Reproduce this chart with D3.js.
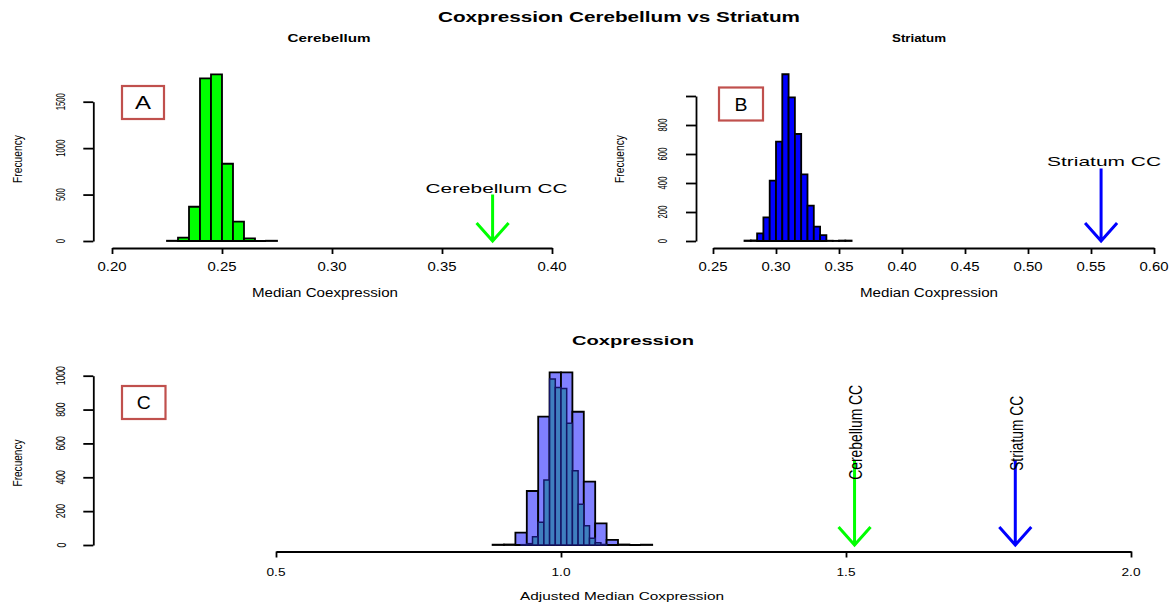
<!DOCTYPE html>
<html>
<head>
<meta charset="utf-8">
<script src="https://cdn.jsdelivr.net/npm/d3@7"></script>
<style>
  html, body { margin: 0; padding: 0; background: #fff; }
  svg { display: block; font-family: "Liberation Sans", Arial, Helvetica, sans-serif; }
</style>
</head>
<body>
<svg id="chart" width="1173" height="605"></svg>
<script>
// Null distributions of median coexpression (histogram bin edges and counts)
const cerebellumEdges  = [0.225, 0.230, 0.235, 0.240, 0.245, 0.250, 0.255, 0.260, 0.265, 0.270, 0.275];
const cerebellumCounts = [3, 36, 369, 1751, 1794, 832, 208, 29, 0, 3];

const striatumEdges  = [0.275, 0.280, 0.285, 0.290, 0.295, 0.300, 0.305, 0.310, 0.315, 0.320,
                        0.325, 0.330, 0.335, 0.340, 0.345, 0.350, 0.355, 0.360];
const striatumCounts = [3, 4, 53, 163, 416, 685, 1150, 990, 738, 460, 244, 99, 41, 2, 1, 3, 3];

// Adjusted (normalised) null distributions
const adjustedWideEdges  = [0.88, 0.90, 0.92, 0.94, 0.96, 0.98, 1.00, 1.02, 1.04, 1.06, 1.08, 1.10, 1.12, 1.14, 1.16];
const adjustedWideCounts = [2, 3, 73, 319, 758, 1020, 1020, 787, 374, 128, 30, 3, 0, 2];
const adjustedNarrowEdges  = [0.93, 0.94, 0.95, 0.96, 0.97, 0.98, 0.99, 1.00, 1.01, 1.02, 1.03, 1.04, 1.05, 1.06, 1.07, 1.08];
const adjustedNarrowCounts = [2, 8, 49, 134, 384, 980, 931, 925, 719, 439, 240, 114, 40, 14, 3];

// Observed values (arrows)
const cerebellumCC = 0.373;
const striatumCC = 0.558;
const cerebellumCCAdjusted = 1.515;
const striatumCCAdjusted = 1.797;
const arrowTop = 500;

// Axis ticks
const aTicksX = [0.20, 0.25, 0.30, 0.35, 0.40];
const aTicksY = [0, 500, 1000, 1500];
const bTicksX = [0.25, 0.30, 0.35, 0.40, 0.45, 0.50, 0.55, 0.60];
const bTicksY = [0, 200, 400, 600, 800, 1000];
const bTickLabelsY = ["0", "200", "400", "600", "800", ""];
const cTicksX = [0.5, 1.0, 1.5, 2.0];
const cTicksY = [0, 200, 400, 600, 800, 1000];

const svg = d3.select("#chart");
svg.append("rect").attr("width", 1173).attr("height", 605).attr("fill", "#fff");

// Text helper: centred text, optionally rotated and forced to a given length
function label(x, y, s, o) {
  const t = svg.append("text")
    .attr("x", x).attr("y", y)
    .attr("text-anchor", "middle")
    .attr("font-size", o.size)
    .attr("font-weight", o.bold ? "bold" : "normal")
    .attr("fill", o.color || "#000")
    .text(s);
  if (o.len) t.attr("textLength", o.len).attr("lengthAdjust", "spacingAndGlyphs");
  if (o.rot) t.attr("transform", `rotate(-90,${x},${y})`);
  return t;
}

function xAxis(scale, y, ticks) {
  const g = svg.append("g").attr("transform", `translate(0,${y})`)
    .call(d3.axisBottom(scale).tickValues(ticks).tickSize(6).tickSizeOuter(0).tickFormat(""));
  g.selectAll("path,line").attr("stroke", "#000").attr("stroke-width", 1.8);
}
function yAxis(scale, x, ticks) {
  const g = svg.append("g").attr("transform", `translate(${x},0)`)
    .call(d3.axisLeft(scale).tickValues(ticks).tickSize(10).tickSizeOuter(0).tickFormat(""));
  g.selectAll("path,line").attr("stroke", "#000").attr("stroke-width", 1.8);
}

function bars(edges, counts, x, y, fill, stroke, sw) {
  const data = counts.map((c, i) => ({ x0: edges[i], x1: edges[i + 1], c }));
  svg.append("g").selectAll("path").data(data).join("path")
    .attr("d", d => `M${x(d.x0)},${y(0)}V${y(d.c)}H${x(d.x1)}V${y(0)}Z`)
    .attr("fill", fill).attr("stroke", stroke).attr("stroke-width", sw)
    .attr("stroke-linejoin", "miter");
}

function arrow(v, x, y, color) {
  const X = x(v), y0 = y(arrowTop), y1 = y(0);
  svg.append("path")
    .attr("d", `M${X},${y0}V${y1}M${X - 16},${y1 - 18}L${X},${y1}L${X + 16},${y1 - 18}`)
    .attr("fill", "none").attr("stroke", color).attr("stroke-width", 3)
    .attr("stroke-linejoin", "miter");
  return { X, y0, y1 };
}

function panelBox(x, y, w, h, letter, len) {
  svg.append("rect").attr("x", x).attr("y", y).attr("width", w).attr("height", h)
    .attr("fill", "#fff").attr("stroke", "#C0504D").attr("stroke-width", 2.2);
  label(x + w / 2, y + h / 2 + 6.5, letter, { size: 17.5, len });
}

const fmt2 = d3.format(".2f"), fmt1 = d3.format(".1f");

// ---- Titles
label(619, 22, "Coxpression Cerebellum vs Striatum", { size: 14, bold: true, len: 362 });
label(329, 42, "Cerebellum", { size: 11.5, bold: true, len: 83 });
label(919, 42, "Striatum", { size: 11.5, bold: true, len: 54 });
label(633, 345, "Coxpression", { size: 13, bold: true, len: 122 });

// ---- Panel A: Cerebellum
const xA = d3.scaleLinear().domain([0.2, 0.4]).range([112, 552]);
const yA = d3.scaleLinear().domain([0, 1500]).range([241, 101.7]);
bars(cerebellumEdges, cerebellumCounts, xA, yA, "#00FF00", "#000", 1.8);
xAxis(xA, 248, aTicksX);
yAxis(yA, 93.3, aTicksY);
aTicksX.forEach(v => label(xA(v), 271, fmt2(v), { size: 12, len: 29 }));
aTicksY.forEach(v => { const s = String(v); label(65, yA(v), s, { size: 13, rot: true, len: s.length * 4.3 }); });
label(22, 159, "Frecuency", { size: 13, rot: true, len: 48 });
label(325, 297, "Median Coexpression", { size: 12, len: 146 });
{
  const a = arrow(cerebellumCC, xA, yA, "#00FF00");
  label(a.X + 4, a.y0 - 1.5, "Cerebellum CC", { size: 13, len: 142 });
}
panelBox(122, 86, 42, 33, "A", 16);

// ---- Panel B: Striatum
const xB = d3.scaleLinear().domain([0.25, 0.6]).range([713, 1154]);
const yB = d3.scaleLinear().domain([0, 1000]).range([241, 96]);
bars(striatumEdges, striatumCounts, xB, yB, "#0000FF", "#000", 1.8);
xAxis(xB, 248, bTicksX);
yAxis(yB, 696, bTicksY);
bTicksX.forEach(v => label(xB(v), 271, fmt2(v), { size: 12, len: 29 }));
bTicksY.forEach((v, i) => {
  const s = bTickLabelsY[i];
  if (s) label(666.5, yB(v), s, { size: 13, rot: true, len: s.length * 4.3 });
});
label(624.4, 159, "Frecuency", { size: 13, rot: true, len: 48 });
label(929, 297, "Median Coxpression", { size: 12, len: 138 });
{
  const a = arrow(striatumCC, xB, yB, "#0000FF");
  label(a.X + 3, a.y0 - 3, "Striatum CC", { size: 13, len: 114 });
}
panelBox(719, 87.5, 44, 33, "B", 13);

// ---- Panel C: adjusted coexpression
const xC = d3.scaleLinear().domain([0.5, 2.0]).range([276, 1131]);
const yC = d3.scaleLinear().domain([0, 1000]).range([545, 375.7]);
bars(adjustedWideEdges, adjustedWideCounts, xC, yC, "#8080FF", "#000", 1.8);
bars(adjustedNarrowEdges, adjustedNarrowCounts, xC, yC, "#3F7FBF", "#141466", 1.5);
xAxis(xC, 551.5, cTicksX);
yAxis(yC, 93.3, cTicksY);
cTicksX.forEach(v => label(xC(v), 576, fmt1(v), { size: 11.5, len: 19 }));
cTicksY.forEach(v => { const s = String(v); label(65.5, yC(v), s, { size: 13.5, rot: true, len: s.length * 4.8 }); });
label(21.5, 463, "Frecuency", { size: 13, rot: true, len: 47 });
label(622, 600, "Adjusted Median Coxpression", { size: 11.5, len: 204 });
{
  const a = arrow(cerebellumCCAdjusted, xC, yC, "#00FF00");
  label(a.X + 7.3, a.y0 - 28, "Cerebellum CC", { size: 19, rot: true, len: 95 });
  const b = arrow(striatumCCAdjusted, xC, yC, "#0000FF");
  label(b.X + 7.4, b.y0 - 27, "Striatum CC", { size: 19, rot: true, len: 75 });
}
panelBox(122, 386, 43.5, 33, "C", 14);
</script>
</body>
</html>
